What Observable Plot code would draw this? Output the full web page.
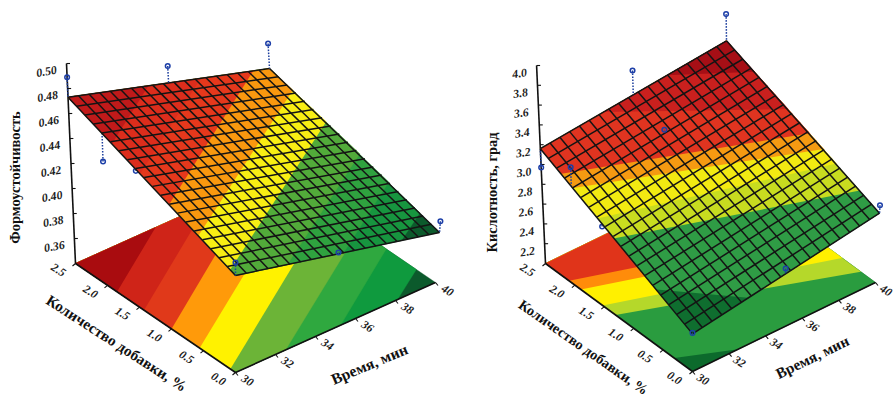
<!DOCTYPE html>
<html><head><meta charset="utf-8">
<style>html,body{margin:0;padding:0;background:#fff}svg{display:block}</style>
<script src="https://cdn.jsdelivr.net/npm/d3@7"></script>
<script src="https://cdn.jsdelivr.net/npm/@observablehq/plot@0.6"></script>
</head><body><div id="chart"></div>
<script>
// ---------- shared axis values ----------
const timeTicks = [30, 32, 34, 36, 38, 40];
const addTicks = [2.5, 2.0, 1.5, 1.0, 0.5, 0.0];
const timeTitle = "Время, мин";
const addTitle = "Количество добавки, %";

// ---------- left panel values ----------
const leftTitle = "Формоустойчивость";
const leftZTicks = [0.50, 0.48, 0.46, 0.44, 0.42, 0.40, 0.38, 0.36];
const leftSurfaceCorners = [0.4176, 0.38, 0.473, 0.424]; // t30a0, t40a0, t30a2.5, t40a2.5
const leftPointTime = [40, 35, 30, 30, 30, 30, 35, 40];
const leftPointAdd = [2.5, 2.5, 2.5, 2.0, 1.5, 0, 0, 0];
const leftPointZ = [0.444, 0.462, 0.489, 0.439, 0.449, 0.428, 0.40, 0.389];
const leftContourFrom = [[38.1, 0], [35.25, 0], [32.5, 0], [30, 0.08], [30, 0.56], [30, 1.0], [30, 1.43], [30, 1.85]];
const leftContourTo = [[40, 0.3], [40, 0.77], [40, 1.2], [40, 1.69], [40, 2.17], [39.2, 2.5], [36.6, 2.5], [34, 2.5]];
const leftColors = ["#0c5a2c", "#0f9a3e", "#2fa83f", "#6cb437", "#fff200", "#ff9a0a", "#e0391a", "#cf2418", "#a90c0f"];
const leftSurfColors = ["#0c5a2c", "#17953f", "#2fa23f", "#52ab3a", "#f8ee14", "#f9980f", "#e5381c", "#dc2d1c", "#c01a1a"];

// ---------- right panel values ----------
const rightTitle = "Кислотность, град";
const rightZTicks = [4.0, 3.8, 3.6, 3.4, 3.2, 3.0, 2.8, 2.6, 2.4, 2.2];
const rightSurfaceCorners = [2.38, 2.70, 3.16, 3.35];
const rightPointTime = [40, 35, 30, 30, 30, 35, 35, 30, 40];
const rightPointAdd = [2.5, 2.5, 2.5, 2.0, 1.5, 2.0, 0, 0, 0];
const rightPointZ = [3.62, 3.50, 2.97, 3.19, 2.81, 3.12, 2.59, 2.39, 2.78];
const rightFloorFrom = [[30, 0.31], [30, 1.31], [30, 1.53], [30, 1.90], [30, 2.10]];
const rightFloorTo = [[32.5, 0], [40, 0.25], [40, 0.57], [40, 0.95], [40, 1.15]];
const rightFloorColors = ["#0c6a2c", "#2a9c3f", "#b5d82a", "#fff000", "#ff8c0a", "#e0341a"];
const rightSurfFrom = [[30, 0.6], [30, 1.29], [30, 1.56], [30, 1.97], [30, 2.16], [33.4, 2.5], [36.8, 2.5]];
const rightSurfTo = [[33, 0], [40, 0.33], [40, 0.72], [40, 0.93], [40, 1.16], [40, 1.51], [40, 2.05]];
const rightSurfColors = ["#0f6e2f", "#2f9c45", "#c8dc20", "#f2ea12", "#f59a12", "#e03420", "#c9201e", "#a60f16"];

// ---------- view calibration: the camera of each 3D box ----------
const leftView = {
  c00: [235, 372], c10: [435, 282], c01: [75, 263], c11: [275, 173],
  lean: [0, 0.08, -0.045, -0.057], zMin: 0.34, pxPerZ: 1250,
  hi: [30, 2.5], cells: [19, 20], addDx: -17, addDy: 6.5, timeDx: 12, timeDy: 8, zDx: -20, zDy: 8, zRot: -10,
  zFmt: d3.format(".2f"),
  yTitleAt: [15, 177, 14.5], addAt: [116, 343, 33, 15.3], timeAt: [369, 364, -23, 15.6]
};
const rightView = {
  c00: [692, 371], c10: [875, 282], c01: [545, 263], c11: [728, 174],
  lean: [0, 0.058, -0.045, -0.015], zMin: 2.0, pxPerZ: 99,
  hi: [40, 2.5], cells: [19, 19], addDx: -18, addDy: 6.5, timeDx: 10.5, timeDy: 8, zDx: -17, zDy: 8, zRot: -8,
  zFmt: d3.format(".1f"),
  yTitleAt: [492, 192, 14.4], addAt: [583, 347, 35, 14.4], timeAt: [812, 357, -26, 15.2]
};

function blend(c, u, v) { // c = [u0v0, u1v0, u0v1, u1v1]
  return (c[0] * (1 - u) + c[1] * u) * (1 - v) + (c[2] * (1 - u) + c[3] * u) * v;
}
function project(view, t, a, z) {
  const u = (t - 30) / 10, v = a / 2.5;
  const h = (z - view.zMin) * view.pxPerZ;
  const bx = blend([view.c00[0], view.c10[0], view.c01[0], view.c11[0]], u, v);
  const by = blend([view.c00[1], view.c10[1], view.c01[1], view.c11[1]], u, v);
  return {x: bx + blend(view.lean, u, v) * h, y: by - h};
}
// keep the part of the time/additive rectangle on the "high" side of a contour
function clip(poly, p, q, hi) {
  const side = r => (q[0] - p[0]) * (r[1] - p[1]) - (q[1] - p[1]) * (r[0] - p[0]);
  const s = Math.sign(side(hi)) || 1, out = [];
  poly.forEach((c, i) => {
    const d = poly[(i + 1) % poly.length], sc = side(c) * s, sd = side(d) * s;
    if (sc >= 0) out.push(c);
    if (sc * sd < 0) { const k = sc / (sc - sd); out.push([c[0] + (d[0] - c[0]) * k, c[1] + (d[1] - c[1]) * k]); }
  });
  return out;
}
const rect = [[30, 0], [40, 0], [40, 2.5], [30, 2.5]];
function bands(view, from, to, colors, zOf) {
  const marks = [];
  colors.forEach((color, i) => {
    const poly = i === 0 ? rect : clip(rect, from[i - 1], to[i - 1], view.hi);
    if (poly.length < 3) return;
    const pts = poly.map(([t, a]) => project(view, t, a, zOf(t, a)));
    marks.push(Plot.line(pts, {x: "x", y: "y", fill: color, stroke: color, strokeWidth: 0.4, curve: "linear"}));
  });
  return marks;
}
const serif = "Liberation Serif";
function panel(view, corners, zTicks, floorB, surfB, ptT, ptA, ptZ, title) {
  const surf = (t, a) => blend(corners, (t - 30) / 10, a / 2.5);
  const floorZ = () => view.zMin;
  const points = ptT.map((t, i) => ({t, a: ptA[i], z: ptZ[i], s: surf(t, ptA[i])}));
  const behind = points.filter(d => d.z < d.s), front = points.filter(d => d.z >= d.s);
  const drops = list => list.map(d => {
    const A = project(view, d.t, d.a, d.z), B = project(view, d.t, d.a, d.s);
    return {x1: A.x, y1: A.y, x2: B.x, y2: B.y};
  });
  const circles = list => list.map(d => project(view, d.t, d.a, d.z));
  const pointMarks = list => [
    Plot.link(drops(list), {x1: "x1", y1: "y1", x2: "x2", y2: "y2", stroke: "#1d3f9e", strokeWidth: 1.5, strokeDasharray: "1.6 1.4"}),
    Plot.dot(circles(list), {x: "x", y: "y", r: 2.3, stroke: "#1d3fa8", strokeWidth: 1.5, fill: "none"})
  ];
  // axis lines
  const edgeT = [project(view, 30, 0, view.zMin), project(view, 40, 0, view.zMin)];
  const edgeA = [project(view, 30, 2.5, view.zMin), project(view, 30, 0, view.zMin)];
  const zTop = d3.max(zTicks);
  const zAxis = [project(view, 30, 2.5, view.zMin), project(view, 30, 2.5, zTop)];
  const link = (A, B) => ({x1: A.x, y1: A.y, x2: B.x, y2: B.y});
  const axisLinks = [link(...edgeT), link(...edgeA), link(...zAxis)];
  const ticks = [];
  timeTicks.forEach(t => { const P = project(view, t, 0, view.zMin); ticks.push(link(P, {x: P.x + 2.5, y: P.y + 3})); });
  addTicks.forEach(a => { const P = project(view, 30, a, view.zMin); ticks.push(link(P, {x: P.x - 3, y: P.y + 2.5})); });
  zTicks.forEach(z => { const P = project(view, 30, 2.5, z); ticks.push(link(P, {x: P.x + 3.5, y: P.y})); });
  // labels
  const timeLabels = timeTicks.map(t => ({...project(view, t, 0, view.zMin), s: String(t)}));
  const addLabels = addTicks.map(a => ({...project(view, 30, a, view.zMin), s: a.toFixed(1)}));
  const zLabels = zTicks.map(z => ({...project(view, 30, 2.5, z), s: view.zFmt(z)}));
  // grid of the response surface
  const grid = [];
  d3.range(view.cells[0] + 1).forEach(i => {
    const t = 30 + 10 * i / view.cells[0];
    grid.push(link(project(view, t, 0, surf(t, 0)), project(view, t, 2.5, surf(t, 2.5))));
  });
  d3.range(view.cells[1] + 1).forEach(i => {
    const a = 2.5 * i / view.cells[1];
    grid.push(link(project(view, 30, a, surf(30, a)), project(view, 40, a, surf(40, a))));
  });
  const tickFont = {fontFamily: serif, fontStyle: "italic", fontWeight: 700, fontSize: 11.8, fill: "#1b1b1b"};
  const titleFont = {fontFamily: serif, fontWeight: 700, fill: "#111"};
  const lk = o => ({x1: "x1", y1: "y1", x2: "x2", y2: "y2", ...o});
  return [
    ...bands(view, floorB[0], floorB[1], floorB[2], floorZ),
    Plot.link(axisLinks, lk({stroke: "#111", strokeWidth: 1.6})),
    Plot.link(ticks, lk({stroke: "#111", strokeWidth: 1.1})),
    ...pointMarks(behind),
    ...bands(view, surfB[0], surfB[1], surfB[2], surf),
    Plot.link(grid, lk({stroke: "#141414", strokeWidth: 1.5})),
    ...pointMarks(front),
    Plot.text(timeLabels, {x: "x", y: "y", text: "s", dx: view.timeDx, dy: view.timeDy, rotate: 32, ...tickFont}),
    Plot.text(addLabels, {x: "x", y: "y", text: "s", dx: view.addDx, dy: view.addDy, rotate: 32, ...tickFont}),
    Plot.text(zLabels, {x: "x", y: "y", text: "s", dx: view.zDx, dy: view.zDy, rotate: view.zRot, ...tickFont}),
    Plot.text([title], {x: () => view.yTitleAt[0], y: () => view.yTitleAt[1], text: d => d, rotate: -90, fontSize: view.yTitleAt[2], ...titleFont}),
    Plot.text([addTitle], {x: () => view.addAt[0], y: () => view.addAt[1], text: d => d, rotate: view.addAt[2], fontSize: view.addAt[3], ...titleFont}),
    Plot.text([timeTitle], {x: () => view.timeAt[0], y: () => view.timeAt[1], text: d => d, rotate: view.timeAt[2], fontSize: view.timeAt[3], ...titleFont})
  ];
}
const chart = Plot.plot({
  width: 894, height: 400,
  marginTop: 0, marginRight: 0, marginBottom: 0, marginLeft: 0,
  x: {domain: [0, 894], range: [0, 894], axis: null},
  y: {domain: [0, 400], range: [0, 400], axis: null},
  style: {background: "#fff"},
  marks: [
    ...panel(leftView, leftSurfaceCorners, leftZTicks,
      [leftContourFrom, leftContourTo, leftColors], [leftContourFrom, leftContourTo, leftSurfColors],
      leftPointTime, leftPointAdd, leftPointZ, leftTitle),
    ...panel(rightView, rightSurfaceCorners, rightZTicks,
      [rightFloorFrom, rightFloorTo, rightFloorColors], [rightSurfFrom, rightSurfTo, rightSurfColors],
      rightPointTime, rightPointAdd, rightPointZ, rightTitle)
  ]
});
document.getElementById("chart").append(chart);
</script></body></html>
